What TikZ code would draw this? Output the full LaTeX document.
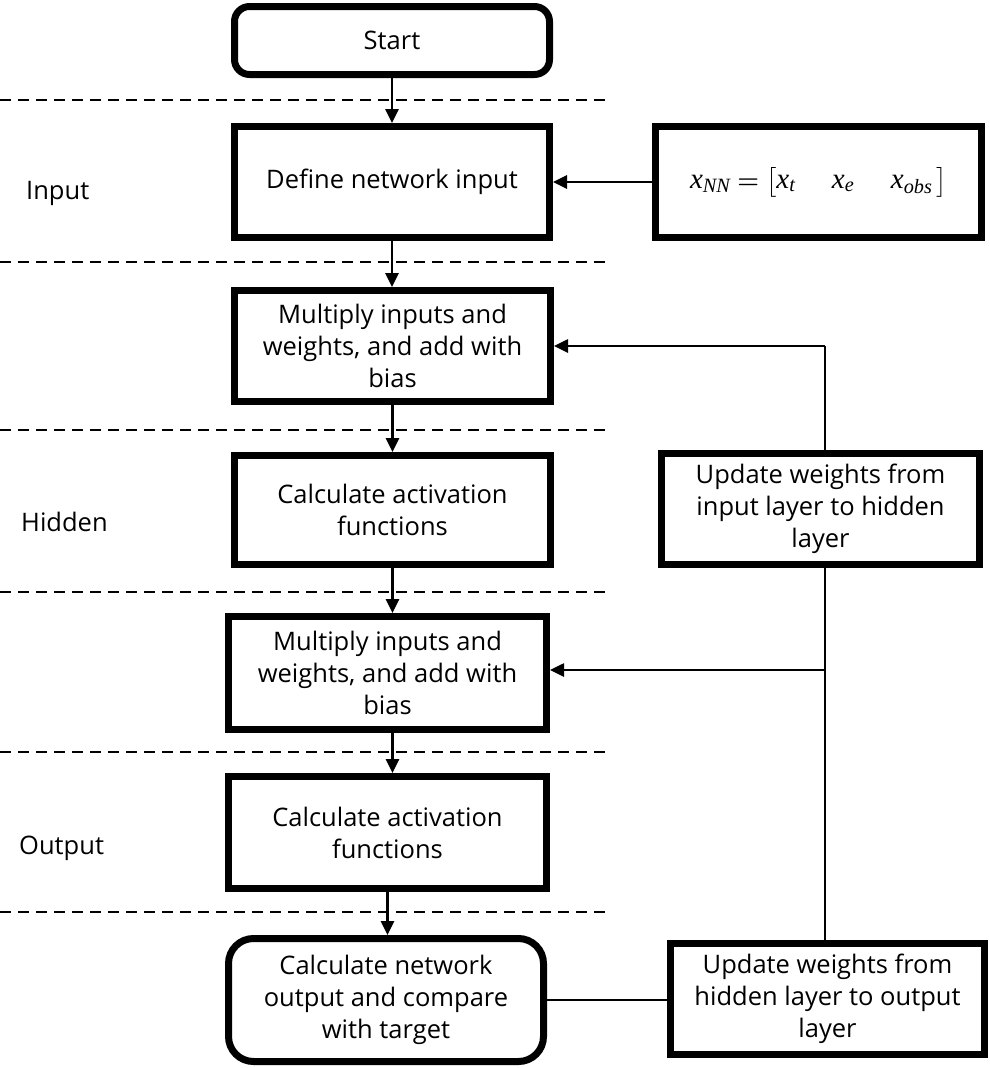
\documentclass[tikz,border=0pt]{standalone}
\usepackage{amsmath}
\usepackage{fontspec}
\setmainfont{Open Sans}
\newfontfamily\tms{Liberation Serif}
\usetikzlibrary{arrows.meta}
\newcommand{\ivar}[1]{\text{\tms\itshape #1}}
\begin{document}
\begin{tikzpicture}[x=1pt,y=-1pt,
  box/.style={draw, line width=7pt, inner sep=0pt, align=center,
    font=\fontsize{25.5}{32}\selectfont},
  rbox/.style={box, rounded corners=#1},
  conn/.style={line width=2.6pt},
  arr/.style={conn, -{Triangle[length=14pt,width=13pt]}},
  sep/.style={line width=1.5pt, dash pattern=on 11pt off 7pt},
  lbl/.style={anchor=west, inner sep=0pt, font=\fontsize{25.5}{30}\selectfont}
]
\useasboundingbox (0,0) rectangle (990,1068);

% dashed separators
\foreach \yy/\nm in {100/d1,262/d2,430/d3,592/d4,752/d5,912/d6}{
  \coordinate (\nm l) at (0,\yy);
  \coordinate (\nm r) at (605,\yy);
  \draw[sep] (\nm l) -- (\nm r);
}

% main column
\node[rbox=15pt, minimum width=315pt, minimum height=68pt] (start) at (392,40.5) {Start};
\node[box, minimum width=315pt, minimum height=111pt] (define) at (392,182) {Define network input};
\node[box, minimum width=316pt, minimum height=111pt] (mult1) at (392.5,346) {Multiply inputs and\\weights, and add with\\bias};
\node[box, minimum width=316pt, minimum height=109pt] (calc1) at (392.5,510) {Calculate activation\\functions};
\node[box, minimum width=318pt, minimum height=113pt] (mult2) at (387.5,673) {Multiply inputs and\\weights, and add with\\bias};
\node[box, minimum width=318pt, minimum height=112pt] (calc2) at (387.5,832.5) {Calculate activation\\functions};
\node[rbox=25pt, minimum width=315pt, minimum height=123pt] (net) at (386,1000) {Calculate network\\output and compare\\with target};

% right column
\node[box, minimum width=326pt, minimum height=111pt] (formula) at (818.5,182)
  {\fontsize{29}{32}\selectfont$\ivar{x}_{\ivar{NN}} \boldsymbol{=} \bigl[\ivar{x}_{\ivar{t}}\quad\ \ivar{x}_{\ivar{e}}\quad\ \ivar{x}_{\ivar{obs}}\,\bigr]$};
\node[box, minimum width=318pt, minimum height=111pt] (upd1) at (820.5,509) {Update weights from\\input layer to hidden\\layer};
\node[box, minimum width=314pt, minimum height=111pt] (upd2) at (827.5,999) {Update weights from\\hidden layer to output\\layer};

% layer labels
\node[lbl] (linput) at (26,193) {Input};
\node[lbl] (lhidden) at (21,522) {Hidden};
\node[lbl] (loutput) at (19,848) {Output};

% vertical flow arrows
\draw[arr] (start.south) -- (start.south |- define.north);
\draw[arr] (define.south) -- (define.south |- mult1.north);
\draw[arr] (mult1.south) -- (mult1.south |- calc1.north);
\draw[arr] (calc1.south) -- (calc1.south |- mult2.north);
\draw[arr] ([xshift=5pt]mult2.south) -- ([xshift=5pt]mult2.south |- calc2.north);
\draw[arr] (calc2.south) -- (calc2.south |- net.north);

% feedback connectors
\coordinate (k1) at (825,346);
\coordinate (k2) at (825,670);
\draw[arr] (formula.west) -- (define.east);
\draw[conn] (upd1.north -| k1) -- (k1);
\draw[arr] (k1) -- (k1 -| mult1.east);
\draw[conn] (upd1.south -| k2) -- (upd2.north -| k2);
\draw[arr] (k2) -- (k2 -| mult2.east);
\draw[conn] (net.east) -- (net.east -| upd2.west);
\end{tikzpicture}
\end{document}
